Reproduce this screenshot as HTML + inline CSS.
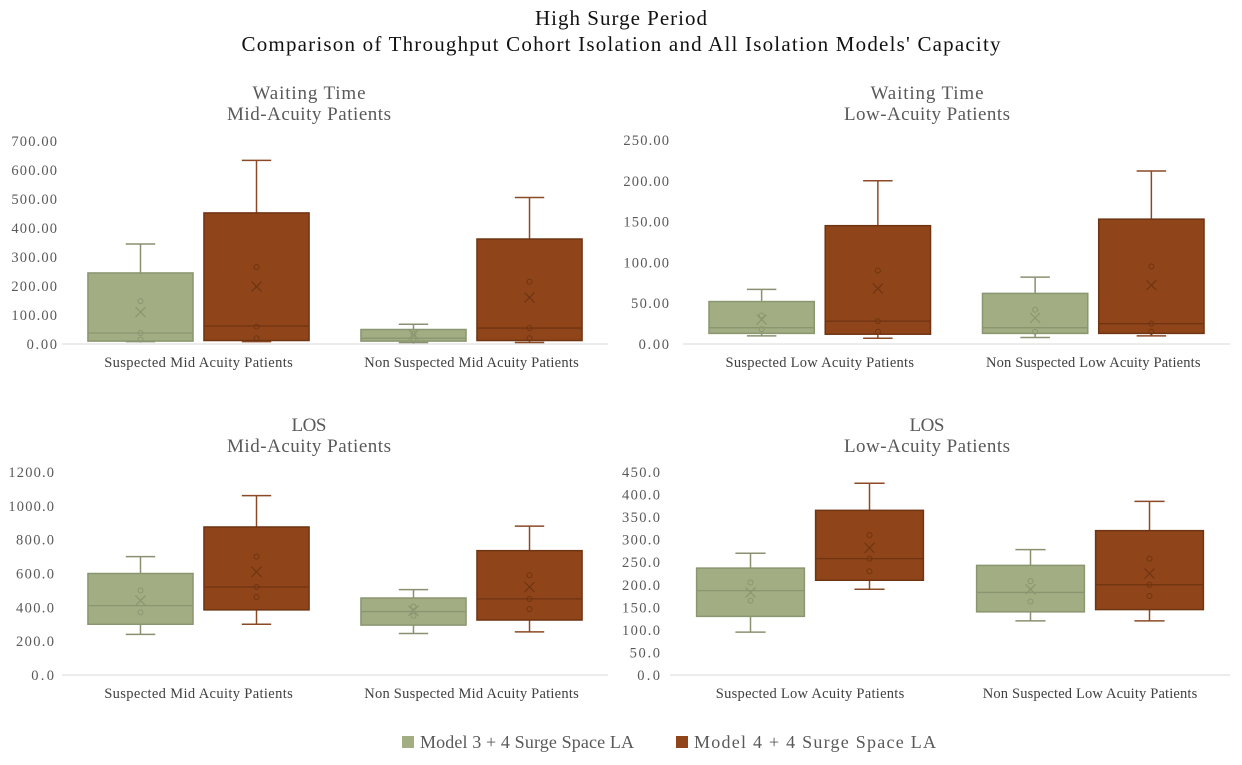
<!DOCTYPE html>
<html><head><meta charset="utf-8"><style>
body{margin:0;background:#fff;}
svg{display:block;font-family:"Liberation Serif",serif;}
</style></head><body>
<svg id="chart" width="1242" height="765" viewBox="0 0 1242 765">
<text x="621" y="25" text-anchor="middle" font-size="21" textLength="172" fill="#111">High Surge Period</text>
<text x="621" y="51" text-anchor="middle" font-size="21" textLength="759" fill="#111">Comparison of Throughput Cohort Isolation and All Isolation Models' Capacity</text>
<g>
<rect x="402" y="736" width="12" height="12" fill="#a3ad84"/>
<text x="420" y="748" font-size="18" textLength="214" fill="#595959">Model 3 + 4 Surge Space LA</text>
<rect x="676" y="736" width="12" height="12" fill="#8f4519"/>
<text x="694" y="748" font-size="18" textLength="242" fill="#595959">Model 4 + 4 Surge Space LA</text>
</g>
</svg>
<script>
const categoriesMid = ["Suspected Mid Acuity Patients", "Non Suspected Mid Acuity Patients"];
const categoriesLow = ["Suspected Low Acuity Patients", "Non Suspected Low Acuity Patients"];
const seriesNames = ["Model 3 + 4 Surge Space LA", "Model 4 + 4 Surge Space LA"];
// each stat: [min, q1, median, q3, max, mean]
const waitMidStats = [
  [[8,10,38,245,345,110],[8,12,62,452,633,198]],
  [[5,10,20,50,68,33],[5,12,55,362,505,160]]
];
const waitMidPoints = [[[148,38,15],[265,60,20]],[[35,12],[215,55,20]]];
const waitLowStats = [
  [[10,13,20,52,67,30],[7,12,28,145,200,68]],
  [[8,13,20,62,82,32],[10,13,25,153,212,72]]
];
const waitLowPoints = [[[35,18],[90,28,15]],[[42,15],[95,25,15]]];
const losMidStats = [
  [[240,300,410,600,700,440],[300,385,520,875,1060,610]],
  [[245,295,375,455,505,380],[255,325,450,735,880,520]]
];
const losMidPoints = [[[500,370],[700,520,460]],[[405,350],[590,450,390]]];
const losLowStats = [
  [[95,130,187,237,270,183],[190,210,258,365,425,282]],
  [[120,140,183,243,278,190],[120,145,200,320,385,225]]
];
const losLowPoints = [[[205,165],[310,258,230]],[[208,163],[258,200,175]]];
const ticksWaitMid = [0,100,200,300,400,500,600,700];
const ticksWaitLow = [0,50,100,150,200,250];
const ticksLosMid = [0,200,400,600,800,1000,1200];
const ticksLosLow = [0,50,100,150,200,250,300,350,400,450];

const NS="http://www.w3.org/2000/svg";
const svg=document.getElementById('chart');
const fills=["#a3ad84","#8f4519"], strokes=["#8a9670","#6f3412"], whisk=["#8a9070","#8b4a25"];
function mk(tag,attrs,parent){const e=document.createElementNS(NS,tag);for(const k in attrs)e.setAttribute(k,attrs[k]);(parent||svg).appendChild(e);return e;}

function panel(o){
  const g=mk('g',{});
  
  
  const y=v=>o.y0-(v/o.max)*(o.y0-o.yTop);
  o.titles.forEach((t,i)=>{const tx=mk('text',{x:o.cx,y:o.ty+i*21,'text-anchor':'middle','font-size':19,fill:'#595959',textLength:o.titleW[i]},g);tx.textContent=t;
    
    });
  o.ticks.forEach(t=>{const s=t.toFixed(o.dec);const tx=mk('text',{x:o.tickX,y:y(t)+5,'text-anchor':'end','font-size':14.5,fill:'#595959',textLength:s.length*7.6},g);tx.textContent=s;
    
    });
  const ax=mk('line',{x1:o.x0,x2:o.x1,y1:o.y0,y2:o.y0,stroke:'#d9d9d9','stroke-width':1},g);
  
  
  const cw=(o.x1-o.x0)/o.cats.length, bw=cw*0.385, gap=cw*0.04;
  o.cats.forEach((c,ci)=>{
    const cc=o.x0+cw*(ci+0.5);
    const lbl=mk('text',{x:cc,y:o.y0+23,'text-anchor':'middle','font-size':14.5,fill:'#404040',textLength:c.length*6.5},g);lbl.textContent=c;
    
    
    [0,1].forEach(s=>{
      const st=o.stats[ci][s];
      const bx=s===0?cc-gap/2-bw:cc+gap/2, mx=bx+bw/2;
      const bg=mk('g',{},g);
      
      
      const wl=bw*0.28;
      mk('line',{x1:mx,x2:mx,y1:y(st[0]),y2:y(st[1]),stroke:whisk[s],'stroke-width':1.5},bg);
      mk('line',{x1:mx,x2:mx,y1:y(st[3]),y2:y(st[4]),stroke:whisk[s],'stroke-width':1.5},bg);
      mk('line',{x1:mx-wl/2,x2:mx+wl/2,y1:y(st[0]),y2:y(st[0]),stroke:whisk[s],'stroke-width':1.5},bg);
      mk('line',{x1:mx-wl/2,x2:mx+wl/2,y1:y(st[4]),y2:y(st[4]),stroke:whisk[s],'stroke-width':1.5},bg);
      mk('rect',{x:bx,y:y(st[3]),width:bw,height:y(st[1])-y(st[3]),fill:fills[s],stroke:strokes[s],'stroke-width':1.5},bg);
      mk('line',{x1:bx,x2:bx+bw,y1:y(st[2]),y2:y(st[2]),stroke:strokes[s],'stroke-width':1.3},bg);
      o.points[ci][s].forEach(p=>mk('circle',{cx:mx,cy:y(p),r:2.5,fill:'none',stroke:strokes[s],'stroke-width':1},bg));
      const my=y(st[5]);
      mk('path',{d:`M${mx-5},${my-5}L${mx+5},${my+5}M${mx-5},${my+5}L${mx+5},${my-5}`,stroke:strokes[s],'stroke-width':1.2,fill:'none'},bg);
    });
  });
}
panel({name:'panel-waiting-mid',titles:['Waiting Time','Mid-Acuity Patients'],titleW:[113,164],cx:309,ty:99,ticks:ticksWaitMid,dec:2,max:700,y0:344,yTop:141,x0:62,x1:608,tickX:57,cats:categoriesMid,stats:waitMidStats,points:waitMidPoints});
panel({name:'panel-waiting-low',titles:['Waiting Time','Low-Acuity Patients'],titleW:[113,166],cx:927,ty:99,ticks:ticksWaitLow,dec:2,max:250,y0:344,yTop:140,x0:683,x1:1230,tickX:669,cats:categoriesLow,stats:waitLowStats,points:waitLowPoints});
panel({name:'panel-los-mid',titles:['LOS','Mid-Acuity Patients'],titleW:[35,164],cx:309,ty:431,ticks:ticksLosMid,dec:1,max:1200,y0:675,yTop:472,x0:62,x1:608,tickX:54,cats:categoriesMid,stats:losMidStats,points:losMidPoints});
panel({name:'panel-los-low',titles:['LOS','Low-Acuity Patients'],titleW:[35,166],cx:927,ty:431,ticks:ticksLosLow,dec:1,max:450,y0:675,yTop:472,x0:670,x1:1230,tickX:660,cats:categoriesLow,stats:losLowStats,points:losLowPoints});
</script>
</body></html>
